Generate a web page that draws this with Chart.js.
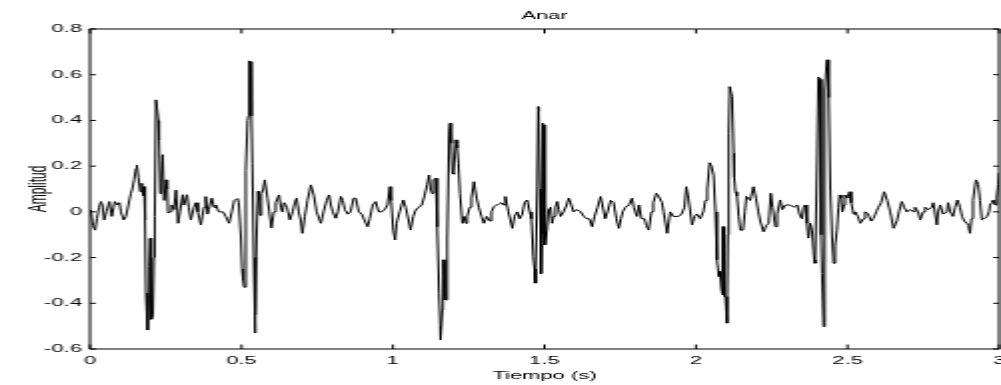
<!DOCTYPE html>
<html>
<head>
<meta charset="utf-8">
<script src="https://cdn.jsdelivr.net/npm/chart.js@4/dist/chart.umd.min.js"></script>
<style>
html,body{margin:0;padding:0;background:#fff;overflow:hidden;width:1001px;height:385px;}
#wrap{width:501px;height:385px;transform:scaleX(1.998);transform-origin:0 0;}
canvas{display:block;}
</style>
</head>
<body>
<div id="wrap"><canvas id="c" width="501" height="385"></canvas></div>
<script>
// Signal: time (s) and amplitude
const time = [
0.000,0.003,0.010,0.017,0.023,0.030,0.036,0.041,0.047,0.054,0.064,0.072,0.078,0.082,0.091,0.097,0.102,0.111,0.119,0.127,
0.135,0.140,0.146,0.152,0.155,0.160,0.166,0.171,0.176,0.179,0.182,0.185,0.190,0.193,0.196,0.199,0.201,0.204,0.208,0.211,
0.214,0.218,0.223,0.226,0.228,0.232,0.236,0.240,0.245,0.251,0.255,0.258,0.264,0.270,0.277,0.284,0.291,0.297,0.306,0.310,
0.320,0.326,0.333,0.343,0.350,0.356,0.366,0.376,0.382,0.388,0.392,0.402,0.409,0.415,0.425,0.439,0.448,0.459,0.468,0.476,
0.487,0.491,0.498,0.502,0.505,0.509,0.514,0.520,0.523,0.525,0.531,0.533,0.536,0.541,0.544,0.545,0.547,0.550,0.555,0.558,
0.561,0.566,0.572,0.577,0.586,0.592,0.599,0.607,0.613,0.624,0.630,0.635,0.641,0.650,0.660,0.669,0.676,0.682,0.689,0.696,
0.701,0.709,0.718,0.729,0.739,0.748,0.762,0.771,0.781,0.789,0.795,0.801,0.811,0.818,0.828,0.834,0.841,0.851,0.860,0.870,
0.877,0.887,0.897,0.907,0.916,0.923,0.933,0.943,0.953,0.963,0.973,0.982,0.990,0.994,1.001,1.007,1.012,1.022,1.034,1.042,
1.052,1.058,1.067,1.075,1.085,1.095,1.104,1.113,1.119,1.124,1.129,1.134,1.141,1.146,1.152,1.156,1.157,1.163,1.165,1.168,
1.172,1.174,1.179,1.185,1.188,1.192,1.196,1.200,1.207,1.212,1.216,1.221,1.229,1.234,1.240,1.245,1.253,1.259,1.267,1.276,
1.283,1.292,1.300,1.309,1.319,1.325,1.333,1.342,1.349,1.358,1.365,1.371,1.381,1.394,1.401,1.410,1.418,1.427,1.434,1.443,
1.451,1.457,1.463,1.467,1.470,1.476,1.479,1.481,1.485,1.487,1.490,1.492,1.494,1.498,1.500,1.503,1.508,1.514,1.520,1.525,
1.530,1.536,1.542,1.547,1.553,1.563,1.573,1.580,1.586,1.596,1.606,1.619,1.630,1.639,1.648,1.657,1.665,1.675,1.685,1.691,
1.700,1.708,1.718,1.728,1.737,1.745,1.752,1.758,1.767,1.779,1.789,1.795,1.805,1.812,1.820,1.830,1.836,1.844,1.853,1.859,
1.869,1.876,1.888,1.893,1.905,1.915,1.925,1.932,1.942,1.952,1.962,1.968,1.975,1.987,1.995,2.003,2.014,2.024,2.031,2.037,
2.045,2.051,2.058,2.064,2.069,2.075,2.079,2.084,2.086,2.089,2.091,2.094,2.097,2.102,2.105,2.108,2.111,2.113,2.119,2.124,
2.126,2.130,2.135,2.141,2.146,2.155,2.161,2.166,2.173,2.179,2.190,2.198,2.206,2.212,2.223,2.232,2.240,2.247,2.253,2.262,
2.268,2.278,2.285,2.295,2.311,2.324,2.334,2.344,2.350,2.355,2.361,2.366,2.371,2.377,2.383,2.390,2.393,2.399,2.404,2.410,
2.413,2.416,2.421,2.424,2.426,2.432,2.434,2.438,2.443,2.449,2.454,2.459,2.465,2.470,2.474,2.479,2.483,2.489,2.492,2.499,
2.507,2.512,2.520,2.525,2.534,2.542,2.552,2.558,2.568,2.578,2.585,2.595,2.602,2.611,2.621,2.624,2.631,2.641,2.652,2.663,
2.670,2.679,2.687,2.696,2.707,2.718,2.723,2.733,2.740,2.750,2.756,2.766,2.778,2.783,2.789,2.795,2.799,2.806,2.815,2.828,
2.832,2.839,2.848,2.855,2.863,2.871,2.878,2.885,2.894,2.899,2.904,2.909,2.914,2.919,2.924,2.931,2.937,2.943,2.951,2.960,
2.967,2.970,2.976,2.981,2.987,2.992,2.997,3.000
];
const amp = [
0.0,0.008,-0.06,-0.08,-0.03,0.02,0.045,0.03,-0.035,0.0,0.045,-0.02,0.02,0.045,0.03,0.04,0.0,-0.035,-0.02,0.03,
0.08,0.1,0.14,0.19,0.205,0.15,0.088,0.125,0.07,0.11,-0.035,-0.356,-0.517,-0.4,-0.24,-0.115,-0.3,-0.47,-0.45,-0.2,
-0.02,0.49,0.49,0.4,0.315,0.08,0.15,0.25,0.05,0.14,0.1,-0.005,0.0,0.03,0.01,0.095,-0.05,0.0,0.075,0.03,
0.075,0.02,-0.035,0.02,0.04,0.0,-0.057,0.02,0.067,-0.01,0.01,0.06,0.02,0.03,0.0,0.0,-0.02,-0.05,0.0,0.05,
0.058,0.04,-0.11,-0.25,-0.3,-0.33,0.18,0.4,0.42,0.66,0.657,0.42,0.21,-0.2,-0.44,-0.53,-0.45,-0.11,0.09,0.05,
-0.015,0.08,0.1,0.14,0.06,0.0,-0.07,0.0,0.04,0.074,0.02,0.0,0.04,0.02,-0.035,0.0,0.04,0.06,0.0,-0.04,
-0.094,-0.02,0.05,0.118,0.07,0.0,-0.05,0.0,0.05,0.074,0.03,0.0,-0.028,0.0,0.067,0.05,0.01,-0.01,0.0,0.06,
0.06,0.0,-0.01,-0.04,-0.065,-0.03,0.03,0.045,0.0,0.0,0.01,0.03,0.11,0.05,-0.08,-0.123,-0.05,0.0,0.052,0.02,
-0.04,-0.08,-0.02,0.008,0.02,0.03,0.07,0.12,0.161,0.1,0.08,0.14,0.147,-0.065,-0.356,-0.5,-0.56,-0.43,-0.21,-0.21,
-0.385,-0.385,-0.123,0.35,0.388,0.3,0.17,0.165,0.315,0.28,0.213,0.08,-0.05,-0.02,-0.05,-0.02,0.02,0.06,0.132,0.06,
0.02,-0.02,-0.05,-0.02,-0.04,0.0,0.023,0.03,0.035,0.04,0.03,0.067,0.0,-0.072,-0.02,0.0,-0.03,-0.01,0.04,0.052,
0.0,-0.03,-0.196,-0.25,-0.312,0.11,0.46,0.44,0.1,-0.196,-0.27,-0.1,0.388,0.38,0.05,-0.145,-0.08,0.008,0.02,-0.05,
-0.02,0.02,0.045,0.01,-0.02,0.0,0.03,0.06,0.04,0.0,0.01,0.0,-0.02,-0.03,-0.03,-0.065,-0.02,0.02,0.067,0.03,
-0.03,0.0,0.05,0.04,-0.03,-0.072,-0.03,0.0,0.02,0.03,0.06,0.02,-0.02,0.03,-0.03,-0.03,-0.06,-0.08,0.0,0.04,
0.081,0.07,0.04,0.0,-0.094,0.0,-0.02,-0.02,-0.02,-0.01,0.02,0.11,0.06,-0.057,-0.02,-0.01,-0.03,0.0,0.05,0.1,
0.215,0.2,0.16,0.0,-0.21,-0.283,-0.26,-0.34,-0.363,-0.065,-0.065,-0.37,-0.371,-0.487,-0.1,0.344,0.548,0.548,0.504,0.256,
0.15,0.088,0.07,-0.02,-0.08,-0.08,0.0,0.067,0.06,0.05,0.11,0.06,0.0,-0.04,-0.087,-0.06,-0.05,0.081,0.02,-0.065,
-0.01,0.052,0.01,0.03,0.03,0.02,0.03,-0.02,-0.03,0.02,0.03,-0.05,-0.115,-0.05,-0.08,-0.21,-0.225,0.183,0.59,0.58,
-0.1,-0.27,-0.502,-0.2,0.533,0.665,0.665,0.5,0.1,-0.11,-0.225,-0.15,-0.08,0.02,0.074,0.06,0.0,0.03,0.074,0.06,
0.088,0.04,-0.01,0.0,-0.02,-0.05,-0.03,0.0,-0.01,-0.04,-0.03,0.0,0.02,0.04,0.088,0.088,0.05,0.0,-0.072,-0.04,
0.0,0.045,0.02,0.0,0.01,0.0,0.02,0.0,-0.035,0.0,0.02,0.01,0.02,0.04,0.04,-0.057,0.0,0.03,-0.01,0.0,
0.04,0.0,-0.02,0.02,0.052,0.02,-0.02,-0.04,-0.05,-0.06,-0.094,-0.03,0.05,0.1,0.14,0.12,0.05,-0.035,-0.03,-0.02,
0.0,0.03,0.04,0.052,0.03,0.06,0.12,0.17
];
const xTickValues = [0, 0.5, 1, 1.5, 2, 2.5, 3];
const xTickLabels = ['0', '0.5', '1', '1.5', '2', '2.5', '3'];
const yTickValues = [-0.6, -0.4, -0.2, 0, 0.2, 0.4, 0.6, 0.8];
const yTickLabels = ['-0.6', '-0.4', '-0.2', '0', '0.2', '0.4', '0.6', '0.8'];
const titleText = 'Anar';
const xTitle = 'Tiempo (s)';
const yTitle = 'Amplitud';

const points = time.map((t, i) => ({x: t, y: amp[i]}));

Chart.defaults.font.family = "'Liberation Sans', Arial, sans-serif";
Chart.defaults.font.size = 11;
Chart.defaults.color = '#000';

const matlabBox = {
  id: 'matlabBox',
  afterDraw(chart) {
    const {ctx, chartArea: a, scales: {x, y}} = chart;
    ctx.save();
    ctx.strokeStyle = '#000';
    ctx.lineWidth = 1;
    ctx.strokeRect(a.left, a.top, a.right - a.left, a.bottom - a.top);
    ctx.beginPath();
    xTickValues.forEach(v => {
      const px = x.getPixelForValue(v);
      ctx.moveTo(px, a.bottom); ctx.lineTo(px, a.bottom - 4.5);
      ctx.moveTo(px, a.top); ctx.lineTo(px, a.top + 4.5);
    });
    yTickValues.forEach(v => {
      const py = y.getPixelForValue(v);
      ctx.moveTo(a.left, py); ctx.lineTo(a.left + 3, py);
      ctx.moveTo(a.right, py); ctx.lineTo(a.right - 3, py);
    });
    ctx.stroke();
    ctx.restore();
  }
};

new Chart(document.getElementById('c'), {
  type: 'line',
  data: {
    datasets: [{
      label: titleText,
      data: points,
      borderColor: '#000',
      borderWidth: 1,
      pointRadius: 0,
      tension: 0,
      fill: false
    }]
  },
  options: {
    responsive: false,
    devicePixelRatio: 1,
    animation: false,
    events: [],
    layout: {padding: {left: 0, right: 1, top: 0, bottom: 0}},
    plugins: {
      legend: {display: false},
      tooltip: {enabled: false},
      title: {
        display: true, text: titleText, fullSize: false, color: '#000',
        font: {size: 11, weight: 'normal'},
        padding: {top: 9, bottom: 6.8}
      }
    },
    scales: {
      x: {
        type: 'linear', min: 0, max: 3, position: 'bottom',
        afterBuildTicks: s => { s.ticks = xTickValues.map(v => ({value: v})); },
        afterFit: s => { s.height = 36; s.paddingLeft = 0; s.paddingRight = 0; },
        grid: {display: false, drawTicks: false, tickLength: 0},
        border: {display: false},
        ticks: {autoSkip: false, maxRotation: 0, minRotation: 0, padding: 5.5,
                callback: (v, i) => xTickLabels[i]},
        title: {display: true, text: xTitle, font: {size: 11}, padding: {top: 0, bottom: 2.8}}
      },
      y: {
        type: 'linear', min: -0.6, max: 0.8,
        afterBuildTicks: s => { s.ticks = yTickValues.map(v => ({value: v})); },
        afterFit: s => { s.width = 45; s.paddingTop = 0; s.paddingBottom = 0; },
        grid: {display: false, drawTicks: false, tickLength: 0},
        border: {display: false},
        ticks: {padding: 4, callback: (v, i) => yTickLabels[i]},
        title: {display: true, text: yTitle, font: {size: 12}, padding: {top: 12.3, bottom: 0}}
      }
    }
  },
  plugins: [matlabBox]
});
</script>
</body>
</html>
